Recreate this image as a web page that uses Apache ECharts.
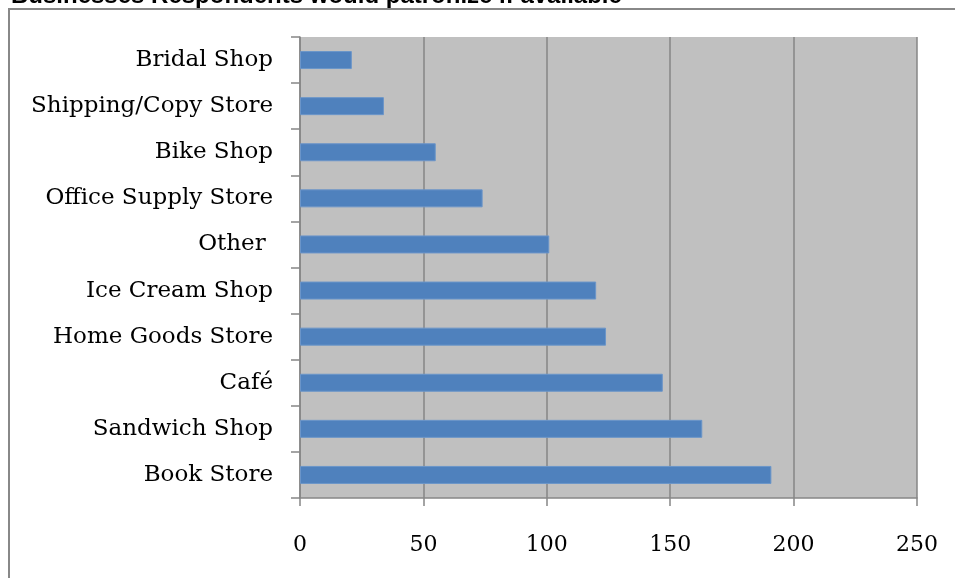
<!DOCTYPE html>
<html>
<head>
<meta charset="utf-8">
<script src="https://cdn.jsdelivr.net/npm/echarts@6/dist/echarts.min.js"></script>
<style>
html,body{margin:0;padding:0;background:#fff;}
#chart{width:955px;height:578px;}
</style>
</head>
<body>
<div id="chart"></div>
<script>
var chartTitle = 'Businesses Respondents would patronize if available';
var categories = ['Bridal Shop', 'Shipping/Copy Store', 'Bike Shop', 'Office Supply Store', 'Other ', 'Ice Cream Shop', 'Home Goods Store', 'Café', 'Sandwich Shop', 'Book Store'];
var values = [21, 34, 55, 74, 101, 120, 124, 147, 163, 191];
var xTicks = [0, 50, 100, 150, 200, 250];

var chart = echarts.init(document.getElementById('chart'), null, {renderer: 'canvas'});
var serif = 'DejaVu Serif';
chart.setOption({
  animation: false,
  backgroundColor: '#ffffff',
  title: {
    text: chartTitle,
    left: 6,
    top: -21,
    textStyle: {fontFamily: 'Liberation Sans', fontWeight: 'bold', fontSize: 24, color: '#000'}
  },
  graphic: [{
    type: 'rect',
    shape: {x: 9, y: 9, width: 960, height: 580},
    style: {fill: 'none', stroke: '#888888', lineWidth: 2},
    z: 0
  }],
  grid: {left: 300, right: 38, top: 37, bottom: 80, show: true, backgroundColor: '#C0C0C0', borderWidth: 0},
  xAxis: {
    type: 'value',
    min: xTicks[0],
    max: xTicks[xTicks.length - 1],
    interval: xTicks[1] - xTicks[0],
    axisLine: {show: true, lineStyle: {color: '#868686', width: 1.5}},
    axisTick: {show: true, length: 8, lineStyle: {color: '#868686', width: 1.5}},
    splitLine: {show: true, lineStyle: {color: '#868686', width: 1.5}},
    axisLabel: {fontFamily: serif, fontSize: 22, color: '#000', margin: 36}
  },
  yAxis: {
    type: 'category',
    data: categories,
    inverse: true,
    axisLine: {show: true, lineStyle: {color: '#868686', width: 1.5}},
    axisTick: {show: true, length: 9, lineStyle: {color: '#868686', width: 1.5}},
    axisLabel: {fontFamily: serif, fontSize: 23, color: '#000', margin: 27, padding: [4, 0, 0, 0]}
  },
  series: [{
    type: 'bar',
    data: values,
    barWidth: 18,
    itemStyle: {color: '#4F81BD', borderColor: '#6B95C9', borderWidth: 1}
  }]
});
</script>
</body>
</html>
